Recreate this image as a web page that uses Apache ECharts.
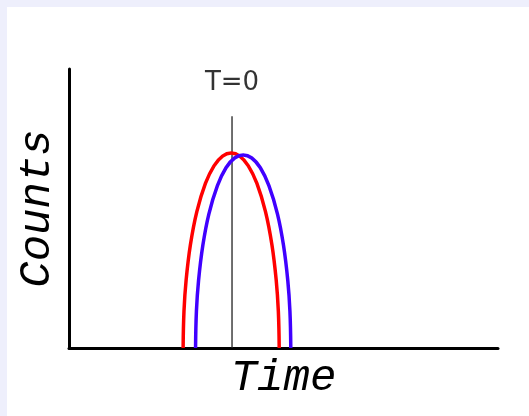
<!DOCTYPE html>
<html>
<head>
<meta charset="utf-8">
<script src="https://cdn.jsdelivr.net/npm/echarts@6/dist/echarts.min.js"></script>
<style>
  html, body { margin: 0; padding: 0; background: #ffffff; }
  #chart { width: 529px; height: 416px; }
</style>
</head>
<body>
<div id="chart"></div>
<script>
// Detector pulse before and after the time shift (arbitrary units)
const redTime = [-11.4, -11.2, -10.7, -9.7, -8.2, -6.2, -4.2, -2.2, -0.2, 1.8, 3.8, 5.8, 7.8, 9.3, 10.3, 10.8, 11.0];
const redCounts = [0, 131, 243, 370, 489, 590, 653, 688, 699, 688, 653, 590, 489, 370, 243, 131, 0];
const blueTime = [-8.5, -8.3, -7.8, -6.8, -5.4, -3.4, -1.4, 0.6, 2.6, 4.6, 6.6, 8.6, 10.6, 12.0, 13.0, 13.5, 13.7];
const blueCounts = [0, 131, 242, 368, 480, 582, 646, 681, 692, 681, 646, 582, 480, 368, 242, 131, 0];
const markerTime = 0;
const markerTop = 831;
const markerLabelAt = 950;
const markerText = 'T=0';
const xName = 'Time';
const yName = 'Counts';

const pairs = (xs, ys) => xs.map((x, i) => [x, ys[i]]);
const monoItalic = {
  fontFamily: '"Liberation Mono", "Courier New", Courier, monospace',
  fontStyle: 'italic', fontSize: 44, color: '#000'
};

const chart = echarts.init(document.getElementById('chart'), null, { renderer: 'canvas' });
chart.setOption({
  backgroundColor: '#ffffff',
  animation: false,
  graphic: [
    { type: 'rect', z: -10, shape: { x: 0, y: 0, width: 529, height: 7 }, style: { fill: '#eeeffc' } },
    { type: 'rect', z: -10, shape: { x: 0, y: 0, width: 7, height: 416 }, style: { fill: '#eeeffc' } }
  ],
  grid: { left: 69, right: 31, top: 69, bottom: 68 },
  xAxis: {
    type: 'value', min: -38, max: 62,
    name: xName, nameLocation: 'middle', nameGap: 8,
    nameTextStyle: monoItalic,
    axisLine: { onZero: false, lineStyle: { color: '#000', width: 3 } },
    axisTick: { show: false }, axisLabel: { show: false }, splitLine: { show: false }
  },
  yAxis: {
    type: 'value', min: 0, max: 1000,
    name: yName, nameLocation: 'middle', nameGap: 10, nameRotate: 90,
    nameTextStyle: monoItalic,
    axisLine: { show: true, onZero: false, lineStyle: { color: '#000', width: 3 } },
    axisTick: { show: false }, axisLabel: { show: false }, splitLine: { show: false }
  },
  series: [
    {
      type: 'line', data: pairs([markerTime, markerTime], [0, markerTop]),
      symbol: 'none', lineStyle: { color: '#222', width: 1.3 }, z: 1
    },
    {
      type: 'scatter', data: [[markerTime, markerLabelAt]],
      symbolSize: 0, silent: true,
      itemStyle: { color: '#000' },
      label: {
        show: true, position: 'inside', formatter: markerText, color: '#000',
        textBorderWidth: 0, textShadowBlur: 0,
        fontFamily: '"DejaVu Sans", sans-serif', fontSize: 26
      }
    },
    {
      type: 'line', data: pairs(redTime, redCounts), smooth: 0.4,
      symbol: 'none', lineStyle: { color: '#ff0000', width: 3.5 }, z: 2
    },
    {
      type: 'line', data: pairs(blueTime, blueCounts), smooth: 0.4,
      symbol: 'none', lineStyle: { color: '#4000ff', width: 3.5 }, z: 3
    }
  ]
});
</script>
</body>
</html>
